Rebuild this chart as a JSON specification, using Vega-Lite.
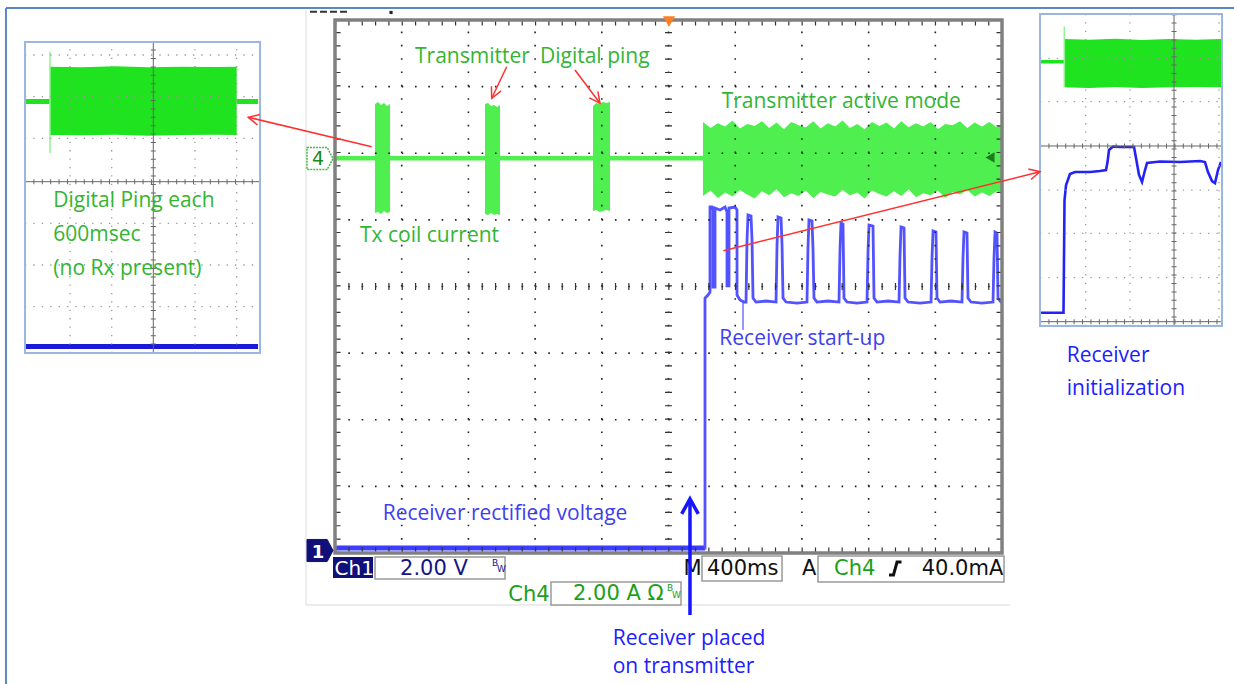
{
 "$schema": "https://vega.github.io/schema/vega-lite/v6.json",
 "width": 1234, "height": 684, "padding": 0, "autosize": {"type": "none"},
 "background": "white",
 "config": {"view": {"stroke": null}},
 "encoding": {
  "x": {"field": "x", "type": "quantitative", "scale": {"domain": [-5.0225, 13.478], "nice": false, "zero": false}, "axis": null},
  "y": {"field": "y", "type": "quantitative", "scale": {"domain": [-1.9662, 8.3002], "nice": false, "zero": false}, "axis": null}
 },
 "datasets": {
  "seg_page": [{"x": -4.933, "y": 8.18, "x2": 13.478, "y2": 8.18}, {"x": -4.933, "y": 8.18, "x2": -4.933, "y2": -1.966}],
  "seg_edge": [{"x": -0.435, "y": 8.15, "x2": -0.435, "y2": -0.78}, {"x": -0.435, "y": -0.78, "x2": 10.12, "y2": -0.78}],
  "seg_grid": [
   {"x": 1, "y": 0, "x2": 1, "y2": 8}, {"x": 2, "y": 0, "x2": 2, "y2": 8}, {"x": 3, "y": 0, "x2": 3, "y2": 8}, {"x": 4, "y": 0, "x2": 4, "y2": 8}, {"x": 5, "y": 0, "x2": 5, "y2": 8},
   {"x": 6, "y": 0, "x2": 6, "y2": 8}, {"x": 7, "y": 0, "x2": 7, "y2": 8}, {"x": 8, "y": 0, "x2": 8, "y2": 8}, {"x": 9, "y": 0, "x2": 9, "y2": 8},
   {"x": 0, "y": 1, "x2": 10, "y2": 1}, {"x": 0, "y": 2, "x2": 10, "y2": 2}, {"x": 0, "y": 3, "x2": 10, "y2": 3}, {"x": 0, "y": 4, "x2": 10, "y2": 4},
   {"x": 0, "y": 5, "x2": 10, "y2": 5}, {"x": 0, "y": 6, "x2": 10, "y2": 6}, {"x": 0, "y": 7, "x2": 10, "y2": 7}
  ],
  "seg_center": [{"x": 5, "y": 0, "x2": 5, "y2": 8}, {"x": 0, "y": 4, "x2": 10, "y2": 4}],
  "seg_border": [{"x": 0.045, "y": 0, "x2": 0.045, "y2": 8}, {"x": 9.955, "y": 0, "x2": 9.955, "y2": 8}, {"x": 0, "y": 0.045, "x2": 10, "y2": 0.045}, {"x": 0, "y": 7.955, "x2": 10, "y2": 7.955}],
  "seg_inset_grid": [
   {"x": -3.973, "y": 3.002, "x2": -3.973, "y2": 7.67}, {"x": -3.348, "y": 3.002, "x2": -3.348, "y2": 7.67}, {"x": -2.099, "y": 3.002, "x2": -2.099, "y2": 7.67}, {"x": -1.474, "y": 3.002, "x2": -1.474, "y2": 7.67},
   {"x": -4.648, "y": 7.475, "x2": -1.124, "y2": 7.475}, {"x": -4.648, "y": 6.849, "x2": -1.124, "y2": 6.849}, {"x": -4.648, "y": 6.224, "x2": -1.124, "y2": 6.224},
   {"x": -4.648, "y": 4.948, "x2": -1.124, "y2": 4.948}, {"x": -4.648, "y": 4.323, "x2": -1.124, "y2": 4.323}, {"x": -4.648, "y": 3.697, "x2": -1.124, "y2": 3.697},
   {"x": 11.255, "y": 3.407, "x2": 11.255, "y2": 8.09}, {"x": 11.919, "y": 3.407, "x2": 11.919, "y2": 8.09}, {"x": 13.253, "y": 3.407, "x2": 13.253, "y2": 8.09},
   {"x": 10.57, "y": 7.425, "x2": 13.298, "y2": 7.425}, {"x": 10.57, "y": 6.774, "x2": 13.298, "y2": 6.774}, {"x": 10.57, "y": 5.448, "x2": 13.298, "y2": 5.448},
   {"x": 10.57, "y": 4.798, "x2": 13.298, "y2": 4.798}, {"x": 10.57, "y": 4.132, "x2": 13.298, "y2": 4.132}
  ],
  "seg_inset_center": [
   {"x": -2.724, "y": 3.002, "x2": -2.724, "y2": 7.67}, {"x": -4.648, "y": 5.573, "x2": -1.124, "y2": 5.573},
   {"x": 12.579, "y": 3.407, "x2": 12.579, "y2": 8.09}, {"x": 10.57, "y": 6.109, "x2": 13.298, "y2": 6.109},
   {"x": 10.57, "y": 3.472, "x2": 13.298, "y2": 3.472}
  ],
  "seg_spikes": [{"x": -4.273, "y": 7.524, "x2": -4.273, "y2": 6.004}, {"x": 10.934, "y": 7.9, "x2": 10.934, "y2": 6.994}],
  "seg_red": [
   {"x": -1.3, "y": 6.54, "x2": 0.55, "y2": 6.098},
   {"x": 2.574, "y": 7.299, "x2": 2.349, "y2": 6.825},
   {"x": 3.598, "y": 7.25, "x2": 3.973, "y2": 6.75},
   {"x": 5.822, "y": 4.537, "x2": 10.57, "y2": 5.723}
  ],
  "seg_blue_arrow": [{"x": 5.322, "y": 0.811, "x2": 5.322, "y2": -0.931}],
  "seg_startup": [{"x": 6.117, "y": 3.767, "x2": 6.117, "y2": 3.347}],
  "seg_top_dash": [{"x": -0.375, "y": 8.125, "x2": 0.195, "y2": 8.125}],
  "rect_frame": [{"x": 0, "x2": 10, "y": 0, "y2": 8}],
  "rect_insets": [{"x": -4.648, "x2": -1.124, "y": 3.002, "y2": 7.67}, {"x": 10.57, "x2": 13.298, "y": 3.407, "y2": 8.09}],
  "rect_boxes": [
   {"x": 0.6, "x2": 2.549, "y": -0.06, "y2": -0.39},
   {"x": 3.238, "x2": 5.187, "y": -0.435, "y2": -0.78},
   {"x": 5.502, "x2": 6.702, "y": -0.045, "y2": -0.42},
   {"x": 7.241, "x2": 10.03, "y": -0.045, "y2": -0.435}
  ],
  "rect_ch1": [{"x": -0.03, "x2": 0.57, "y": -0.06, "y2": -0.375}],
  "area_main": [
   {"g": "base", "x": 0, "y": 5.96, "y2": 5.89}, {"g": "base", "x": 5.52, "y": 5.96, "y2": 5.89},
   {"g": "p1", "x": 0.6, "y": 6.739, "y2": 5.103}, {"g": "p1", "x": 0.645, "y": 6.769, "y2": 5.118}, {"g": "p1", "x": 0.69, "y": 6.724, "y2": 5.088}, {"g": "p1", "x": 0.735, "y": 6.754, "y2": 5.133}, {"g": "p1", "x": 0.78, "y": 6.709, "y2": 5.103}, {"g": "p1", "x": 0.825, "y": 6.739, "y2": 5.118},
   {"g": "p2", "x": 2.249, "y": 6.739, "y2": 5.088}, {"g": "p2", "x": 2.294, "y": 6.754, "y2": 5.073}, {"g": "p2", "x": 2.339, "y": 6.709, "y2": 5.103}, {"g": "p2", "x": 2.384, "y": 6.724, "y2": 5.073}, {"g": "p2", "x": 2.429, "y": 6.694, "y2": 5.088}, {"g": "p2", "x": 2.474, "y": 6.724, "y2": 5.073},
   {"g": "p3", "x": 3.868, "y": 6.709, "y2": 5.133}, {"g": "p3", "x": 3.918, "y": 6.754, "y2": 5.148}, {"g": "p3", "x": 3.968, "y": 6.739, "y2": 5.118}, {"g": "p3", "x": 4.018, "y": 6.769, "y2": 5.133}, {"g": "p3", "x": 4.068, "y": 6.754, "y2": 5.148}, {"g": "p3", "x": 4.123, "y": 6.769, "y2": 5.133},
   {"g": "act", "x": 5.517, "y": 6.47, "y2": 5.36}, {"g": "act", "x": 5.63, "y": 6.38, "y2": 5.44}, {"g": "act", "x": 5.74, "y": 6.45, "y2": 5.33}, {"g": "act", "x": 5.85, "y": 6.4, "y2": 5.41},
   {"g": "act", "x": 5.96, "y": 6.49, "y2": 5.35}, {"g": "act", "x": 6.07, "y": 6.37, "y2": 5.45}, {"g": "act", "x": 6.18, "y": 6.44, "y2": 5.38}, {"g": "act", "x": 6.29, "y": 6.41, "y2": 5.32},
   {"g": "act", "x": 6.4, "y": 6.48, "y2": 5.43}, {"g": "act", "x": 6.51, "y": 6.38, "y2": 5.37}, {"g": "act", "x": 6.62, "y": 6.46, "y2": 5.46}, {"g": "act", "x": 6.73, "y": 6.36, "y2": 5.34},
   {"g": "act", "x": 6.84, "y": 6.47, "y2": 5.4}, {"g": "act", "x": 6.95, "y": 6.42, "y2": 5.36}, {"g": "act", "x": 7.06, "y": 6.39, "y2": 5.44}, {"g": "act", "x": 7.17, "y": 6.48, "y2": 5.33},
   {"g": "act", "x": 7.28, "y": 6.37, "y2": 5.42}, {"g": "act", "x": 7.39, "y": 6.45, "y2": 5.38}, {"g": "act", "x": 7.5, "y": 6.4, "y2": 5.35}, {"g": "act", "x": 7.61, "y": 6.49, "y2": 5.45},
   {"g": "act", "x": 7.72, "y": 6.38, "y2": 5.37}, {"g": "act", "x": 7.83, "y": 6.44, "y2": 5.41}, {"g": "act", "x": 7.94, "y": 6.36, "y2": 5.32}, {"g": "act", "x": 8.05, "y": 6.47, "y2": 5.44},
   {"g": "act", "x": 8.16, "y": 6.41, "y2": 5.39}, {"g": "act", "x": 8.27, "y": 6.46, "y2": 5.35}, {"g": "act", "x": 8.38, "y": 6.37, "y2": 5.43}, {"g": "act", "x": 8.49, "y": 6.48, "y2": 5.36},
   {"g": "act", "x": 8.6, "y": 6.39, "y2": 5.46}, {"g": "act", "x": 8.71, "y": 6.45, "y2": 5.34}, {"g": "act", "x": 8.82, "y": 6.4, "y2": 5.4}, {"g": "act", "x": 8.93, "y": 6.47, "y2": 5.37},
   {"g": "act", "x": 9.04, "y": 6.36, "y2": 5.44}, {"g": "act", "x": 9.15, "y": 6.44, "y2": 5.33}, {"g": "act", "x": 9.26, "y": 6.42, "y2": 5.42}, {"g": "act", "x": 9.37, "y": 6.48, "y2": 5.38},
   {"g": "act", "x": 9.48, "y": 6.38, "y2": 5.45}, {"g": "act", "x": 9.59, "y": 6.46, "y2": 5.35}, {"g": "act", "x": 9.7, "y": 6.4, "y2": 5.41}, {"g": "act", "x": 9.81, "y": 6.47, "y2": 5.36},
   {"g": "act", "x": 9.92, "y": 6.39, "y2": 5.43}, {"g": "act", "x": 10.0, "y": 6.44, "y2": 5.39}
  ],
  "area_inset": [
   {"g": "lb1", "x": -4.633, "y": 6.814, "y2": 6.739}, {"g": "lb1", "x": -4.273, "y": 6.814, "y2": 6.739},
   {"g": "lburst", "x": -4.273, "y": 7.299, "y2": 6.274}, {"g": "lburst", "x": -3.8, "y": 7.289, "y2": 6.269}, {"g": "lburst", "x": -3.3, "y": 7.304, "y2": 6.279}, {"g": "lburst", "x": -2.8, "y": 7.289, "y2": 6.264},
   {"g": "lburst", "x": -2.3, "y": 7.299, "y2": 6.274}, {"g": "lburst", "x": -1.8, "y": 7.294, "y2": 6.279}, {"g": "lburst", "x": -1.474, "y": 7.299, "y2": 6.274},
   {"g": "lb2", "x": -1.474, "y": 6.814, "y2": 6.739}, {"g": "lb2", "x": -1.154, "y": 6.814, "y2": 6.739},
   {"g": "rb", "x": 10.585, "y": 7.4, "y2": 7.347}, {"g": "rb", "x": 10.934, "y": 7.4, "y2": 7.347},
   {"g": "rburst", "x": 10.934, "y": 7.715, "y2": 6.99}, {"g": "rburst", "x": 11.3, "y": 7.705, "y2": 6.98}, {"g": "rburst", "x": 11.7, "y": 7.72, "y2": 6.995}, {"g": "rburst", "x": 12.1, "y": 7.7, "y2": 6.98},
   {"g": "rburst", "x": 12.5, "y": 7.715, "y2": 6.99}, {"g": "rburst", "x": 12.9, "y": 7.705, "y2": 6.995}, {"g": "rburst", "x": 13.283, "y": 7.715, "y2": 6.99}
  ],
  "area_blue_base": [{"x": 0, "y": 0.1126, "y2": 0.0375}, {"x": 5.547, "y": 0.1126, "y2": 0.0375}],
  "area_inset_blue": [{"x": -4.633, "y": 3.137, "y2": 3.062}, {"x": -1.154, "y": 3.137, "y2": 3.062}],
  "line_ch1": [
   {"i": 0, "x": 5.532, "y": 0.075}, {"i": 1, "x": 5.547, "y": 0.075}, {"i": 2, "x": 5.547, "y": 3.827}, {"i": 3, "x": 5.592, "y": 3.872}, {"i": 4, "x": 5.622, "y": 3.917},
   {"i": 5, "x": 5.622, "y": 5.193}, {"i": 6, "x": 5.652, "y": 5.193}, {"i": 7, "x": 5.667, "y": 5.148}, {"i": 8, "x": 5.667, "y": 3.992}, {"i": 9, "x": 5.697, "y": 3.992},
   {"i": 10, "x": 5.697, "y": 5.178}, {"i": 11, "x": 5.772, "y": 5.148}, {"i": 12, "x": 5.847, "y": 5.193}, {"i": 13, "x": 5.877, "y": 5.118}, {"i": 14, "x": 5.877, "y": 4.008},
   {"i": 15, "x": 5.907, "y": 4.008}, {"i": 16, "x": 5.907, "y": 5.178}, {"i": 17, "x": 5.997, "y": 5.193}, {"i": 18, "x": 6.027, "y": 5.148}, {"i": 19, "x": 6.027, "y": 3.872},
   {"i": 20, "x": 6.072, "y": 3.797}, {"i": 21, "x": 6.132, "y": 3.767}, {"i": 22, "x": 6.162, "y": 3.767}, {"i": 23, "x": 6.177, "y": 4.698}, {"i": 24, "x": 6.192, "y": 5.073},
   {"i": 25, "x": 6.237, "y": 5.058}, {"i": 26, "x": 6.252, "y": 4.698}, {"i": 27, "x": 6.267, "y": 3.827}, {"i": 28, "x": 6.312, "y": 3.767}, {"i": 29, "x": 6.462, "y": 3.782},
   {"i": 30, "x": 6.612, "y": 3.767}, {"i": 31, "x": 6.627, "y": 4.623}, {"i": 32, "x": 6.642, "y": 5.043}, {"i": 33, "x": 6.687, "y": 5.028}, {"i": 34, "x": 6.702, "y": 4.623},
   {"i": 35, "x": 6.717, "y": 3.827}, {"i": 36, "x": 6.762, "y": 3.767}, {"i": 37, "x": 6.927, "y": 3.752}, {"i": 38, "x": 7.076, "y": 3.767}, {"i": 39, "x": 7.091, "y": 4.578},
   {"i": 40, "x": 7.106, "y": 4.998}, {"i": 41, "x": 7.151, "y": 4.983}, {"i": 42, "x": 7.166, "y": 4.578}, {"i": 43, "x": 7.181, "y": 3.827}, {"i": 44, "x": 7.226, "y": 3.767},
   {"i": 45, "x": 7.391, "y": 3.782}, {"i": 46, "x": 7.556, "y": 3.767}, {"i": 47, "x": 7.571, "y": 4.548}, {"i": 48, "x": 7.586, "y": 4.953}, {"i": 49, "x": 7.616, "y": 4.938},
   {"i": 50, "x": 7.631, "y": 3.827}, {"i": 51, "x": 7.676, "y": 3.767}, {"i": 52, "x": 7.826, "y": 3.752}, {"i": 53, "x": 7.976, "y": 3.767}, {"i": 54, "x": 7.991, "y": 4.518},
   {"i": 55, "x": 8.006, "y": 4.923}, {"i": 56, "x": 8.066, "y": 4.908}, {"i": 57, "x": 8.081, "y": 3.827}, {"i": 58, "x": 8.126, "y": 3.767}, {"i": 59, "x": 8.291, "y": 3.782},
   {"i": 60, "x": 8.456, "y": 3.767}, {"i": 61, "x": 8.471, "y": 4.473}, {"i": 62, "x": 8.486, "y": 4.893}, {"i": 63, "x": 8.531, "y": 4.878}, {"i": 64, "x": 8.546, "y": 3.827},
   {"i": 65, "x": 8.591, "y": 3.767}, {"i": 66, "x": 8.771, "y": 3.752}, {"i": 67, "x": 8.936, "y": 3.767}, {"i": 68, "x": 8.951, "y": 4.443}, {"i": 69, "x": 8.966, "y": 4.833},
   {"i": 70, "x": 9.01, "y": 4.818}, {"i": 71, "x": 9.025, "y": 3.827}, {"i": 72, "x": 9.07, "y": 3.767}, {"i": 73, "x": 9.235, "y": 3.782}, {"i": 74, "x": 9.4, "y": 3.767},
   {"i": 75, "x": 9.415, "y": 4.428}, {"i": 76, "x": 9.43, "y": 4.818}, {"i": 77, "x": 9.475, "y": 4.803}, {"i": 78, "x": 9.49, "y": 3.827}, {"i": 79, "x": 9.535, "y": 3.767},
   {"i": 80, "x": 9.7, "y": 3.752}, {"i": 81, "x": 9.865, "y": 3.767}, {"i": 82, "x": 9.88, "y": 4.428}, {"i": 83, "x": 9.895, "y": 4.818}, {"i": 84, "x": 9.925, "y": 4.803},
   {"i": 85, "x": 9.94, "y": 3.827}, {"i": 86, "x": 9.985, "y": 3.767}, {"i": 87, "x": 10.0, "y": 3.767}
  ],
  "line_rinset": [
   {"x": 10.585, "y": 3.607}, {"x": 10.922, "y": 3.607}, {"x": 10.937, "y": 5.298}, {"x": 10.96, "y": 5.523}, {"x": 11.019, "y": 5.688}, {"x": 11.094, "y": 5.718},
   {"x": 11.319, "y": 5.718}, {"x": 11.469, "y": 5.733}, {"x": 11.559, "y": 5.748}, {"x": 11.582, "y": 5.868}, {"x": 11.604, "y": 6.049}, {"x": 11.664, "y": 6.101},
   {"x": 11.769, "y": 6.094}, {"x": 11.919, "y": 6.094}, {"x": 11.979, "y": 6.094}, {"x": 12.009, "y": 5.929}, {"x": 12.054, "y": 5.674}, {"x": 12.099, "y": 5.569},
   {"x": 12.144, "y": 5.748}, {"x": 12.174, "y": 5.853}, {"x": 12.369, "y": 5.876}, {"x": 12.669, "y": 5.868}, {"x": 12.969, "y": 5.884}, {"x": 13.043, "y": 5.868},
   {"x": 13.088, "y": 5.718}, {"x": 13.148, "y": 5.583}, {"x": 13.193, "y": 5.553}, {"x": 13.238, "y": 5.748}, {"x": 13.283, "y": 5.868}
  ],
  "line_trig": [{"x": 8.306, "y": -0.33}, {"x": 8.373, "y": -0.33}, {"x": 8.426, "y": -0.135}, {"x": 8.493, "y": -0.135}],
  "pt_trigpos": [{"x": 5.007, "y": 7.977}],
  "pt_ch4ref": [{"x": 9.82, "y": 5.936}],
  "pt_tag4": [{"x": -0.225, "y": 5.921}],
  "pt_tag1": [{"x": -0.225, "y": 0.0375}],
  "pt_dot": [{"x": 0.84, "y": 8.113}],
  "pt_a1": [{"x": -1.3, "y": 6.54}],
  "pt_a2": [{"x": 2.349, "y": 6.825}],
  "pt_a3": [{"x": 3.973, "y": 6.75}],
  "pt_a4": [{"x": 10.57, "y": 5.723}],
  "pt_blue_tip": [{"x": 5.322, "y": 0.811}],
  "txt_green": [
   {"x": 1.199, "y": 7.35, "t": "Transmitter"}, {"x": 3.073, "y": 7.35, "t": "Digital ping"},
   {"x": 0.375, "y": 4.675, "t": "Tx coil current"}, {"x": 5.797, "y": 6.674, "t": "Transmitter active mode"},
   {"x": -4.223, "y": 5.198, "t": "Digital Ping each"}, {"x": -4.223, "y": 4.683, "t": "600msec"}, {"x": -4.223, "y": 4.173, "t": "(no Rx present)"}
  ],
  "txt_blue1": [{"x": 5.762, "y": 3.122, "t": "Receiver start-up"}, {"x": 0.715, "y": 0.495, "t": "Receiver rectified voltage"}],
  "txt_blue2": [
   {"x": 4.163, "y": -1.381, "t": "Receiver placed"}, {"x": 4.163, "y": -1.797, "t": "on transmitter"},
   {"x": 10.97, "y": 2.871, "t": "Receiver"}, {"x": 10.97, "y": 2.371, "t": "initialization"}
  ],
  "txt_white": [{"x": -0.007, "y": -0.33, "t": "Ch1"}],
  "txt_navy": [{"x": 0.975, "y": -0.33, "t": "2.00 V"}],
  "txt_ro_green": [{"x": 2.598, "y": -0.716, "t": "Ch4"}, {"x": 3.568, "y": -0.705, "t": "2.00 A Ω"}, {"x": 7.481, "y": -0.33, "t": "Ch4"}],
  "txt_black": [{"x": 5.225, "y": -0.33, "t": "M"}, {"x": 5.577, "y": -0.33, "t": "400ms"}, {"x": 7.001, "y": -0.33, "t": "A"}, {"x": 8.796, "y": -0.33, "t": "40.0mA"}],
  "txt_bw_navy": [{"x": 2.354, "y": -0.195, "t": "B"}, {"x": 2.429, "y": -0.285, "t": "W"}],
  "txt_bw_green": [{"x": 4.978, "y": -0.57, "t": "B"}, {"x": 5.052, "y": -0.675, "t": "W"}],
  "txt_tag4": [{"x": -0.255, "y": 5.824, "t": "4"}],
  "txt_tag1": [{"x": -0.255, "y": -0.075, "t": "1"}]
 },
 "layer": [
  {"data": {"name": "seg_page"}, "mark": {"type": "rule", "color": "#5b87c5", "strokeWidth": 2}, "encoding": {"x2": {"field": "x2"}, "y2": {"field": "y2"}}},
  {"data": {"name": "seg_edge"}, "mark": {"type": "rule", "color": "#dcdcdc", "strokeWidth": 1}, "encoding": {"x2": {"field": "x2"}, "y2": {"field": "y2"}}},
  {"data": {"name": "area_inset"}, "mark": {"type": "area", "color": "#1fe31f"}, "encoding": {"y2": {"field": "y2"}, "detail": {"field": "g", "type": "nominal"}}},
  {"data": {"name": "seg_spikes"}, "mark": {"type": "rule", "color": "#8ef58e", "strokeWidth": 1.5}, "encoding": {"x2": {"field": "x2"}, "y2": {"field": "y2"}}},
  {"data": {"name": "area_inset_blue"}, "mark": {"type": "area", "color": "#1a1ad8"}, "encoding": {"y2": {"field": "y2"}}},
  {"data": {"name": "line_rinset"}, "mark": {"type": "line", "color": "#2323f5", "strokeWidth": 2.6}, "encoding": {}},
  {"data": {"name": "seg_inset_grid"}, "mark": {"type": "rule", "color": "#9a9a9a", "strokeWidth": 1.3, "strokeDash": [1.3, 7.1]}, "encoding": {"x2": {"field": "x2"}, "y2": {"field": "y2"}}},
  {"data": {"name": "seg_inset_center"}, "mark": {"type": "rule", "color": "#666666", "strokeWidth": 1}, "encoding": {"x2": {"field": "x2"}, "y2": {"field": "y2"}}},
  {"data": {"name": "seg_inset_center"}, "mark": {"type": "rule", "color": "#666666", "strokeWidth": 5, "strokeDash": [1, 7.4]}, "encoding": {"x2": {"field": "x2"}, "y2": {"field": "y2"}}},
  {"data": {"name": "rect_insets"}, "mark": {"type": "rect", "filled": false, "color": "#9bb7df", "strokeWidth": 2}, "encoding": {"x2": {"field": "x2"}, "y2": {"field": "y2"}}},
  {"data": {"name": "area_main"}, "mark": {"type": "area", "color": "#4eef4e"}, "encoding": {"y2": {"field": "y2"}, "detail": {"field": "g", "type": "nominal"}}},
  {"data": {"name": "area_blue_base"}, "mark": {"type": "area", "color": "#3d3dff"}, "encoding": {"y2": {"field": "y2"}}},
  {"data": {"name": "line_ch1"}, "mark": {"type": "line", "color": "#5252ff", "strokeWidth": 2.8}, "encoding": {"order": {"field": "i", "type": "quantitative"}}},
  {"data": {"name": "seg_startup"}, "mark": {"type": "rule", "color": "#5050ff", "strokeWidth": 1.2}, "encoding": {"x2": {"field": "x2"}, "y2": {"field": "y2"}}},
  {"data": {"name": "seg_grid"}, "mark": {"type": "rule", "color": "#222222", "strokeWidth": 1.6, "strokeDash": [1.6, 11.73]}, "encoding": {"x2": {"field": "x2"}, "y2": {"field": "y2"}}},
  {"data": {"name": "seg_center"}, "mark": {"type": "rule", "color": "#333333", "strokeWidth": 7, "strokeDash": [1.2, 12.13]}, "encoding": {"x2": {"field": "x2"}, "y2": {"field": "y2"}}},
  {"data": {"name": "seg_border"}, "mark": {"type": "rule", "color": "#333333", "strokeWidth": 5, "strokeDash": [1.2, 12.13]}, "encoding": {"x2": {"field": "x2"}, "y2": {"field": "y2"}}},
  {"data": {"name": "rect_frame"}, "mark": {"type": "rect", "filled": false, "color": "#808080", "strokeWidth": 3.5}, "encoding": {"x2": {"field": "x2"}, "y2": {"field": "y2"}}},
  {"data": {"name": "seg_top_dash"}, "mark": {"type": "rule", "color": "#333333", "strokeWidth": 2, "strokeDash": [7, 3]}, "encoding": {"x2": {"field": "x2"}, "y2": {"field": "y2"}}},
  {"data": {"name": "pt_dot"}, "mark": {"type": "point", "shape": "square", "size": 10, "filled": true, "color": "#222222", "opacity": 1}, "encoding": {}},
  {"data": {"name": "pt_trigpos"}, "mark": {"type": "point", "shape": "triangle-down", "size": 150, "filled": true, "color": "#ff7f27", "opacity": 1}, "encoding": {}},
  {"data": {"name": "pt_ch4ref"}, "mark": {"type": "point", "shape": "triangle-left", "size": 110, "filled": true, "color": "#1f7a1f", "opacity": 1}, "encoding": {}},
  {"data": {"name": "pt_tag4"}, "mark": {"type": "point", "shape": "M-1,-0.85L0.55,-0.85L1,0L0.55,0.85L-1,0.85Z", "size": 676, "filled": true, "fill": "white", "stroke": "#44bb44", "strokeWidth": 1.5, "strokeDash": [2, 1], "opacity": 1}, "encoding": {}},
  {"data": {"name": "pt_tag1"}, "mark": {"type": "point", "shape": "M-1,-0.85L0.55,-0.85L1,0L0.55,0.85L-1,0.85Z", "size": 676, "filled": true, "fill": "#101078", "stroke": "#101078", "strokeWidth": 1, "opacity": 1}, "encoding": {}},
  {"data": {"name": "txt_tag4"}, "mark": {"type": "text", "align": "center", "baseline": "alphabetic", "font": "DejaVu Sans", "fontSize": 19, "color": "#148a14"}, "encoding": {"text": {"field": "t"}}},
  {"data": {"name": "txt_tag1"}, "mark": {"type": "text", "align": "center", "baseline": "alphabetic", "font": "DejaVu Sans", "fontSize": 18, "fontWeight": "bold", "color": "white"}, "encoding": {"text": {"field": "t"}}},
  {"data": {"name": "rect_boxes"}, "mark": {"type": "rect", "fill": "white", "stroke": "#9a9a9a", "strokeWidth": 1.5}, "encoding": {"x2": {"field": "x2"}, "y2": {"field": "y2"}}},
  {"data": {"name": "rect_ch1"}, "mark": {"type": "rect", "fill": "#101078"}, "encoding": {"x2": {"field": "x2"}, "y2": {"field": "y2"}}},
  {"data": {"name": "txt_white"}, "mark": {"type": "text", "align": "left", "baseline": "alphabetic", "font": "DejaVu Sans", "fontSize": 20, "color": "white"}, "encoding": {"text": {"field": "t"}}},
  {"data": {"name": "txt_navy"}, "mark": {"type": "text", "align": "left", "baseline": "alphabetic", "font": "DejaVu Sans", "fontSize": 21, "color": "#141488"}, "encoding": {"text": {"field": "t"}}},
  {"data": {"name": "txt_ro_green"}, "mark": {"type": "text", "align": "left", "baseline": "alphabetic", "font": "DejaVu Sans", "fontSize": 21, "color": "#1aa01a"}, "encoding": {"text": {"field": "t"}}},
  {"data": {"name": "txt_black"}, "mark": {"type": "text", "align": "left", "baseline": "alphabetic", "font": "DejaVu Sans", "fontSize": 21, "color": "#111111"}, "encoding": {"text": {"field": "t"}}},
  {"data": {"name": "txt_bw_navy"}, "mark": {"type": "text", "align": "left", "baseline": "alphabetic", "font": "DejaVu Sans", "fontSize": 9, "color": "#141488"}, "encoding": {"text": {"field": "t"}}},
  {"data": {"name": "txt_bw_green"}, "mark": {"type": "text", "align": "left", "baseline": "alphabetic", "font": "DejaVu Sans", "fontSize": 9, "color": "#1aa01a"}, "encoding": {"text": {"field": "t"}}},
  {"data": {"name": "line_trig"}, "mark": {"type": "line", "color": "#111111", "strokeWidth": 3}, "encoding": {}},
  {"data": {"name": "seg_red"}, "mark": {"type": "rule", "color": "#ff3030", "strokeWidth": 1.5}, "encoding": {"x2": {"field": "x2"}, "y2": {"field": "y2"}}},
  {"data": {"name": "pt_a1"}, "mark": {"type": "point", "shape": "M1.6,-0.8L0,0L1.6,0.8", "size": 180, "angle": 13.3, "filled": false, "color": "#ff3030", "strokeWidth": 1.5, "opacity": 1}, "encoding": {}},
  {"data": {"name": "pt_a2"}, "mark": {"type": "point", "shape": "M1.6,-0.8L0,0L1.6,0.8", "size": 180, "angle": -64.6, "filled": false, "color": "#ff3030", "strokeWidth": 1.5, "opacity": 1}, "encoding": {}},
  {"data": {"name": "pt_a3"}, "mark": {"type": "point", "shape": "M1.6,-0.8L0,0L1.6,0.8", "size": 180, "angle": -126.9, "filled": false, "color": "#ff3030", "strokeWidth": 1.5, "opacity": 1}, "encoding": {}},
  {"data": {"name": "pt_a4"}, "mark": {"type": "point", "shape": "M1.6,-0.8L0,0L1.6,0.8", "size": 180, "angle": 166, "filled": false, "color": "#ff3030", "strokeWidth": 1.5, "opacity": 1}, "encoding": {}},
  {"data": {"name": "seg_blue_arrow"}, "mark": {"type": "rule", "color": "#1515ff", "strokeWidth": 3.5}, "encoding": {"x2": {"field": "x2"}, "y2": {"field": "y2"}}},
  {"data": {"name": "pt_blue_tip"}, "mark": {"type": "point", "shape": "M-1,1.8L0,0L1,1.8", "size": 276, "filled": false, "color": "#1515ff", "strokeWidth": 3.5, "opacity": 1}, "encoding": {}},
  {"data": {"name": "txt_green"}, "mark": {"type": "text", "align": "left", "baseline": "alphabetic", "font": "Open Sans", "fontSize": 21, "color": "#33b533"}, "encoding": {"text": {"field": "t"}}},
  {"data": {"name": "txt_blue1"}, "mark": {"type": "text", "align": "left", "baseline": "alphabetic", "font": "Open Sans", "fontSize": 21, "color": "#4040f0"}, "encoding": {"text": {"field": "t"}}},
  {"data": {"name": "txt_blue2"}, "mark": {"type": "text", "align": "left", "baseline": "alphabetic", "font": "Open Sans", "fontSize": 21, "color": "#2020ff"}, "encoding": {"text": {"field": "t"}}}
 ]
}
